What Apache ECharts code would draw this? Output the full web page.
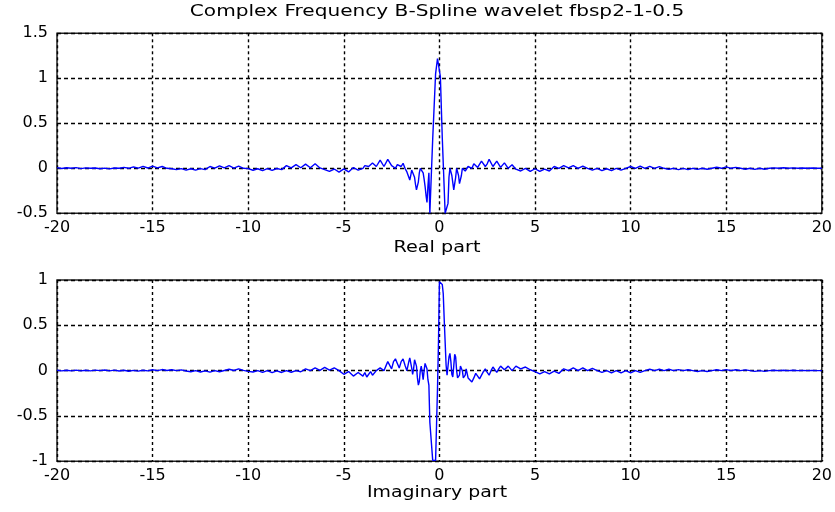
<!DOCTYPE html>
<html>
<head>
<meta charset="utf-8">
<script src="https://cdn.jsdelivr.net/npm/echarts@6/dist/echarts.min.js"></script>
<style>html,body{margin:0;padding:0;background:#fff;}#chart{width:835px;height:512px;}</style>
</head>
<body>
<div id="chart"></div>
<script>
const chartTitle = 'Complex Frequency B-Spline wavelet fbsp2-1-0.5';
const topAxisName = 'Real part';
const bottomAxisName = 'Imaginary part';
const xTicks = [-20, -15, -10, -5, 0, 5, 10, 15, 20];
const realTicks = [-0.5, 0, 0.5, 1, 1.5];
const imagTicks = [-1, -0.5, 0, 0.5, 1];

const sampleX = [
  -20,-19.75,-19.5,-19.25,-19,-18.75,-18.5,-18.25,-18,-17.75,-17.5,-17.25,-17,-16.75,-16.5,-16.25,
  -16,-15.75,-15.5,-15.25,-15,-14.75,-14.5,-14.25,
  -14,-13.75,-13.5,-13.25,-13,-12.75,-12.5,-12.25,
  -12,-11.75,-11.5,-11.25,-11,-10.75,-10.5,-10.25,
  -10,-9.75,-9.5,-9.25,-9,-8.75,-8.5,-8.25,
  -8,-7.75,-7.5,-7.25,-7,-6.75,-6.5,-6.25,
  -6,-5.75,-5.5,-5.25,-5,-4.75,-4.5,-4.25,
  -4,-3.9,-3.8,-3.7,-3.6,-3.5,-3.4,-3.3,-3.2,-3.1,-3,-2.9,-2.8,-2.7,-2.6,-2.5,-2.4,-2.3,-2.2,-2.1,-2,-1.9,-1.8,-1.7,-1.6,
  -1.55,-1.5,-1.45,-1.4,-1.35,-1.3,-1.25,-1.2,-1.15,-1.1,-1.05,-1,-0.95,-0.9,-0.85,-0.8,-0.75,-0.7,-0.65,-0.6,-0.55,-0.5,-0.45,-0.4,-0.35,-0.3,-0.25,-0.2,-0.15,-0.1,-0.05,
  0,0.05,0.1,0.15,0.2,0.25,0.3,0.35,0.4,0.45,0.5,0.55,0.6,0.65,0.7,0.75,0.8,0.85,0.9,0.95,1,1.05,1.1,1.15,1.2,1.25,1.3,1.35,1.4,1.45,1.5,
  1.6,1.7,1.8,1.9,2,2.1,2.2,2.3,2.4,2.5,2.6,2.7,2.8,2.9,3,3.1,3.2,3.3,3.4,3.5,3.6,3.7,3.8,3.9,4,
  4.25,4.5,4.75,5,5.25,5.5,5.75,6,6.25,6.5,6.75,7,7.25,7.5,7.75,8,8.25,8.5,8.75,9,9.25,9.5,9.75,10,
  10.25,10.5,10.75,11,11.25,11.5,11.75,12,12.25,12.5,12.75,13,13.25,13.5,13.75,14,14.25,14.5,14.75,15,
  15.25,15.5,15.75,16,16.25,16.5,16.75,17,17.25,17.5,17.75,18,18.25,18.5,18.75,19,19.25,19.5,19.75,20
];

const realPart = [
  0.008,-0.002,0.006,0,0.008,-0.003,0.005,0,0.004,-0.005,0.002,-0.006,0.004,0,0.01,0,
  0.015,0.002,0.022,0.003,0.025,0.005,0.02,0,
  -0.005,-0.015,-0.004,-0.02,-0.005,-0.02,-0.003,-0.015,
  0.02,0.002,0.028,0.004,0.03,0.003,0.025,0,
  -0.004,-0.022,-0.005,-0.026,-0.004,-0.024,-0.002,-0.015,
  0.03,0.005,0.04,0.006,0.046,0.006,0.05,0.004,
  -0.015,-0.035,-0.008,-0.042,-0.006,-0.04,0.008,-0.02,
  0,0.03,0.05,0.02,0,0.06,0.07,0.02,0.04,0.09,0.08,0.02,0.03,0.1,0.1,0.03,0.02,0,0.04,0.06,0.02,0.055,0,-0.04,-0.1,
  -0.13,-0.08,-0.02,0,-0.02,-0.1,-0.18,-0.24,-0.25,-0.15,-0.05,0,0.02,0.01,-0.05,-0.12,-0.2,-0.3,-0.38,-0.2,-0.05,-0.5,-0.5,-0.5,0.33,0.34,0.34,1.05,1.05,1.22,1.22,
  1.22,1.02,1.02,0.34,0.34,0.34,-0.5,-0.5,-0.5,-0.39,-0.1,0,0,-0.08,-0.16,-0.24,-0.24,-0.1,0,0.02,-0.08,-0.17,-0.17,-0.08,0,0.02,0,-0.03,-0.05,-0.02,0.02,
  0.03,0,0.05,0.06,0.01,0.03,0.08,0.08,0.02,0.05,0.1,0.09,0.02,0.04,0.08,0.07,0.01,0.03,0.06,0.05,0,0.02,0.04,0.02,-0.01,
  -0.03,0,-0.035,-0.005,-0.035,-0.01,-0.03,
  0.02,0,0.03,0.005,0.03,0,0.025,0,
  -0.02,0,-0.025,-0.005,-0.025,0,-0.02,0,
  0.02,0,0.025,0,0.022,0,0.018,0,
  -0.012,0,-0.015,0,-0.015,0,-0.012,0,-0.01,0,
  0.012,0,0.015,0,0.01,0,
  -0.01,0,-0.012,0,-0.01,0,
  0.005,0,0.006,0,0.005,0,0.004,0,0.003,0,0
];

const imagPart = [
  0.004,-0.003,0.005,-0.002,0.006,-0.003,0.005,-0.002,0.006,0,0.007,-0.002,0.006,-0.004,0.004,-0.006,0.003,-0.005,0.004,-0.003,
  0.01,0,0.012,0.002,0.01,0,0.008,-0.004,
  -0.012,0,-0.015,-0.002,-0.016,0,-0.012,0.002,
  0.015,0.002,0.02,0.003,
  -0.008,-0.015,0,-0.02,0,-0.022,-0.002,-0.02,0,-0.018,0,-0.012,
  0.02,0,0.03,0.004,0.035,0.005,0.03,0,
  -0.04,-0.01,-0.06,-0.02,
  -0.06,-0.02,-0.07,-0.05,-0.01,-0.05,-0.04,0,-0.02,0.03,0.05,0,0.05,0.1,0.08,0.02,0.1,0.13,0.08,0.03,0.1,0.13,0.06,0,0.1,
  0.14,0.12,0.03,-0.04,0.02,0.12,0.14,0.05,-0.08,-0.16,-0.12,0,0.05,-0.02,-0.1,0,0.08,0.07,0.02,-0.1,-0.16,-0.57,-0.57,-0.57,-0.99,-0.99,-0.99,-0.99,-0.6,-0.2,0.3,
  0.98,0.99,0.99,0.95,0.85,0.57,0.57,0.06,-0.05,0.05,0.15,0.19,0.1,-0.04,-0.07,0.05,0.18,0.15,0,-0.08,-0.1,-0.05,0.05,0.06,0,-0.08,-0.1,-0.05,0.02,0,-0.08,
  -0.1,-0.125,-0.08,-0.03,-0.05,-0.09,-0.07,-0.01,0.02,-0.02,-0.05,0,0.04,0.02,-0.02,0.02,0.05,0.06,0.01,0,0.05,0.05,0,0.01,0.05,
  0.02,0.04,0.01,
  -0.01,-0.035,-0.01,-0.035,-0.005,-0.03,
  0.02,0,0.03,0,0.03,0,0.025,0,
  -0.02,0,-0.025,0,-0.025,0,-0.025,0,-0.02,0,
  0.015,0,0.015,0,0.015,0,0.012,0,0.01,0,
  -0.01,0,-0.01,0,
  0.01,0,0.012,0,0.01,0,0.008,0,
  -0.008,0,-0.008,0,
  0.004,0,0.004,0,0.004,0,0.003,0,0.003,0,0
];

const FONT = 'DejaVu Sans';
const chart = echarts.init(document.getElementById('chart'), null, {renderer: 'canvas'});

function pairs(ys) {
  const n = Math.min(sampleX.length, ys.length);
  const out = [];
  for (let i = 0; i < n; i++) out.push([sampleX[i], ys[i]]);
  return out;
}

function xAxisCfg(gridIndex) {
  return {
    type: 'value', gridIndex: gridIndex,
    min: xTicks[0], max: xTicks[xTicks.length - 1], interval: xTicks[1] - xTicks[0],
    axisLine: {show: false}, axisTick: {show: false},
    axisLabel: {color: '#000', fontFamily: FONT, fontSize: 16, margin: 7, showMinLabel: true, showMaxLabel: true},
    splitLine: {show: true, lineStyle: {color: '#000', width: 1.4, type: [3, 3]}}
  };
}
function yAxisCfg(gridIndex, ticks) {
  return {
    type: 'value', gridIndex: gridIndex,
    min: ticks[0], max: ticks[ticks.length - 1], interval: ticks[1] - ticks[0],
    axisLine: {show: false}, axisTick: {show: false},
    axisLabel: {color: '#000', fontFamily: FONT, fontSize: 16, margin: 9, showMinLabel: true, showMaxLabel: true},
    splitLine: {show: true, lineStyle: {color: '#000', width: 1.4, type: [4, 3]}}
  };
}

function label(text, x, y, sx) {
  return {
    type: 'text', x: x, y: y, scaleX: sx, z: 100,
    style: {text: text, fill: '#000', font: '15px "DejaVu Sans"', textAlign: 'center', textVerticalAlign: 'middle'}
  };
}

chart.setOption({
  animation: false,
  backgroundColor: '#fff',
  graphic: [
    label(chartTitle, 437, 12, 1.34),
    label(topAxisName, 437, 248, 1.28),
    label(bottomAxisName, 437, 493, 1.26)
  ],
  grid: [
    {left: 57, right: 13, top: 33.3, height: 180, show: true, borderColor: '#222', borderWidth: 1.5, backgroundColor: 'transparent'},
    {left: 57, right: 13, top: 280, height: 181.3, show: true, borderColor: '#222', borderWidth: 1.5, backgroundColor: 'transparent'}
  ],
  xAxis: [xAxisCfg(0), xAxisCfg(1)],
  yAxis: [yAxisCfg(0, realTicks), yAxisCfg(1, imagTicks)],
  series: [
    {type: 'line', xAxisIndex: 0, yAxisIndex: 0, data: pairs(realPart), showSymbol: false, clip: true,
     lineStyle: {color: '#0000ff', width: 1.4}, z: 5},
    {type: 'line', xAxisIndex: 1, yAxisIndex: 1, data: pairs(imagPart), showSymbol: false, clip: true,
     lineStyle: {color: '#0000ff', width: 1.4}, z: 5}
  ]
});
</script>
</body>
</html>
